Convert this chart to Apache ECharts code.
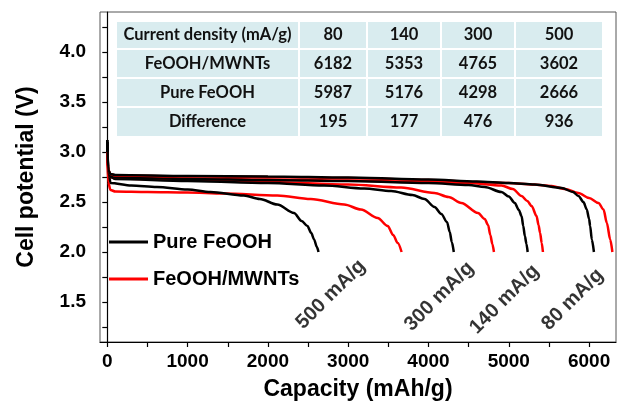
<!DOCTYPE html>
<html>
<head>
<meta charset="UTF-8">
<title></title>
<script src="https://cdn.jsdelivr.net/npm/echarts@6/dist/echarts.min.js"></script>
</head>
<body style="margin:0;background:#fff;">
<div id="box" style="width:618px;height:411px;"></div>
<script type="text/javascript">
// capacity (mAh/g), potential (V)
const pure80 = [[0,3.12],[12,2.82],[40,2.78],[100,2.77],[1000,2.76],[2000,2.755],[3000,2.745],[4000,2.725],[4600,2.705],[5000,2.69],[5325,2.675],[5659,2.64],[5800,2.6],[5867,2.56],[5930,2.5],[5971,2.425],[6000,2.33],[6013,2.26],[6034,2.125],[6060,2.0]];
const mwnt80 = [[0,3.0],[12,2.82],[40,2.78],[100,2.765],[1000,2.757],[2000,2.75],[3000,2.74],[4000,2.72],[4600,2.7],[5000,2.69],[5300,2.675],[5534,2.66],[5700,2.63],[5867,2.59],[6000,2.54],[6117,2.49],[6180,2.425],[6221,2.29],[6263,2.125],[6290,2.0]];
const pure140 = [[0,3.1],[12,2.8],[40,2.76],[100,2.745],[1000,2.73],[2000,2.72],[3000,2.71],[4000,2.69],[4500,2.67],[4700,2.65],[4909,2.6],[5000,2.555],[5075,2.49],[5125,2.42],[5159,2.36],[5180,2.26],[5200,2.16],[5220,2.08],[5235,2.0]];
const mwnt140 = [[0,3.0],[12,2.8],[40,2.765],[100,2.75],[1000,2.735],[2000,2.725],[3000,2.715],[4000,2.70],[4500,2.69],[4909,2.665],[5050,2.63],[5159,2.56],[5230,2.51],[5284,2.46],[5346,2.36],[5370,2.27],[5390,2.19],[5410,2.09],[5425,2.0]];
const pure300 = [[0,3.1],[12,2.79],[40,2.75],[100,2.73],[1000,2.71],[2000,2.69],[2700,2.665],[3200,2.635],[3534,2.61],[3800,2.57],[3950,2.53],[4075,2.45],[4160,2.38],[4230,2.3],[4265,2.2],[4290,2.1],[4315,2.0]];
const mwnt300 = [[0,3.0],[12,2.79],[40,2.75],[100,2.735],[1000,2.72],[2000,2.70],[3000,2.675],[3659,2.645],[4075,2.59],[4250,2.55],[4409,2.49],[4617,2.39],[4700,2.33],[4742,2.27],[4770,2.17],[4795,2.08],[4815,2.0]];
const pure500 = [[0,3.12],[10,2.85],[40,2.69],[300,2.665],[617,2.65],[1000,2.625],[1284,2.60],[1700,2.565],[1900,2.53],[2117,2.475],[2325,2.39],[2420,2.31],[2492,2.26],[2540,2.19],[2575,2.125],[2610,2.05],[2630,2.0]];
const mwnt500 = [[0,2.95],[10,2.7],[40,2.62],[100,2.605],[500,2.6],[1000,2.595],[1450,2.585],[2117,2.565],[2534,2.53],[2950,2.475],[3159,2.425],[3367,2.34],[3492,2.26],[3560,2.17],[3617,2.09],[3665,2.0]];

// rate annotations: capacity, potential, text
const rateLabels = [[2784,1.575,'500 mA/g'],[4134,1.555,'300 mA/g'],[4946,1.525,'140 mA/g'],[5796,1.525,'80 mA/g']];

// tick values
const xLabels = [0,1000,2000,3000,4000,5000,6000];
const xTicks = [0,500,1000,1500,2000,2500,3000,3500,4000,4500,5000,5500,6000];
const yLabels = [1.5,2.0,2.5,3.0,3.5,4.0];
const yTicks = [1.25,1.5,1.75,2.0,2.25,2.5,2.75,3.0,3.25,3.5,3.75,4.0,4.25];

// inset table
const tableHead = ['Current density (mA/g)','80','140','300','500'];
const tableRows = [
    ['FeOOH/MWNTs','6182','5353','4765','3602'],
    ['Pure FeOOH','5987','5176','4298','2666'],
    ['Difference','195','177','476','936']
];

const colX = [116, 299, 367, 441, 515, 603];
const rowY = [21, 49, 78, 107, 137];
let cells = [];
[tableHead].concat(tableRows).forEach(function (row, r) {
    row.forEach(function (txt, c) {
        cells.push({
            type: 'rect',
            shape: {x: colX[c] + 1, y: rowY[r] + 1, width: colX[c + 1] - colX[c] - 2, height: rowY[r + 1] - rowY[r] - 2},
            style: {fill: '#d9ecef'},
            silent: true
        });
        cells.push({
            type: 'text',
            x: (colX[c] + colX[c + 1]) / 2,
            y: (rowY[r] + rowY[r + 1]) / 2,
            style: {text: txt, fill: '#111', font: 'bold 16.5px Lato', textAlign: 'center', textVerticalAlign: 'middle'},
            silent: true
        });
    });
});

const black = '#000000';
const red = '#ff0000';
function curve(name, data, color) {
    return {
        name: name,
        type: 'line',
        data: data,
        symbol: 'none',
        smooth: 0.3,
        smoothMonotone: 'x',
        lineStyle: {color: color, width: 2.5},
        itemStyle: {color: color},
        silent: true,
        z: 3
    };
}

const axisFont = {fontFamily: 'Liberation Sans', fontWeight: 'bold', color: '#000'};

const option = {
    animation: false,
    grid: {left: 100, top: 12, right: 2, bottom: 69, show: true, borderColor: '#555', borderWidth: 1},
    xAxis: {
        type: 'value',
        min: -91,
        max: 6335,
        name: 'Capacity (mAh/g)',
        nameLocation: 'middle',
        nameGap: 36,
        nameTextStyle: Object.assign({fontSize: 23}, axisFont),
        axisLine: {show: true, lineStyle: {color: '#000', width: 1.2}},
        axisTick: {show: true, length: 5, customValues: xTicks, lineStyle: {color: '#000', width: 1.2}},
        axisLabel: Object.assign({customValues: xLabels, fontSize: 19, margin: 10, formatter: function (v) { return String(v); }}, axisFont),
        splitLine: {show: false}
    },
    yAxis: {
        type: 'value',
        min: 1.1,
        max: 4.4,
        name: 'Cell potential (V)',
        nameLocation: 'middle',
        nameGap: 62,
        nameTextStyle: Object.assign({fontSize: 23}, axisFont),
        axisLine: {show: true, lineStyle: {color: '#000', width: 1.2}},
        axisTick: {show: true, length: 5, customValues: yTicks, lineStyle: {color: '#000', width: 1.2}},
        axisLabel: Object.assign({customValues: yLabels, fontSize: 19, margin: 14, formatter: function (v) { return v.toFixed(1); }}, axisFont),
        splitLine: {show: false}
    },
    legend: {
        data: [{name: 'Pure FeOOH', icon: 'rect'}, {name: 'FeOOH/MWNTs', icon: 'rect'}],
        orient: 'vertical',
        left: 104,
        top: 227,
        itemWidth: 39,
        itemHeight: 3,
        itemGap: 17,
        textStyle: {fontFamily: 'Liberation Sans', fontWeight: 'bold', fontSize: 20, color: '#000', lineHeight: 20}
    },
    graphic: cells,
    series: [
        curve('FeOOH/MWNTs', mwnt500, red),
        curve('Pure FeOOH', pure500, black),
        curve('FeOOH/MWNTs', mwnt300, red),
        curve('Pure FeOOH', pure300, black),
        curve('FeOOH/MWNTs', mwnt140, red),
        curve('Pure FeOOH', pure140, black),
        curve('FeOOH/MWNTs', mwnt80, red),
        curve('Pure FeOOH', pure80, black),
        {
            name: 'rates',
            type: 'scatter',
            data: rateLabels,
            symbolSize: 1,
            itemStyle: {color: 'transparent'},
            silent: true,
            label: {
                show: true,
                position: 'inside',
                rotate: 45,
                formatter: function (p) { return p.value[2]; },
                fontFamily: 'Liberation Sans',
                fontWeight: 'bold',
                fontSize: 20,
                color: '#000'
            }
        }
    ]
};

const myChart = echarts.init(document.getElementById('box'));
myChart.setOption(option);
</script>
</body>
</html>
